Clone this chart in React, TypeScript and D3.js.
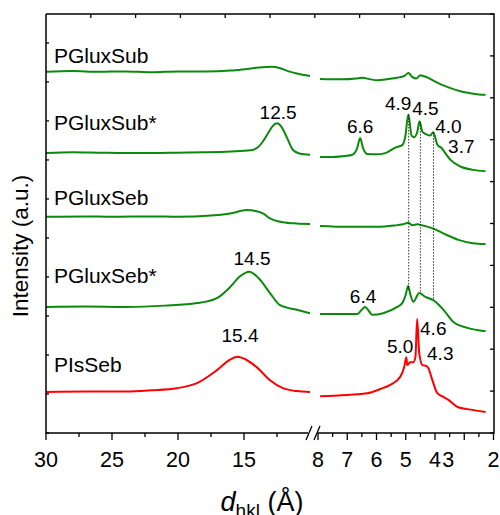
import React from "react";
import * as d3 from "d3";

// ---------- data (d-spacing in Å, intensity in a.u.) ----------
const leftDomain = [30, 10];
const rightDomain = [8, 2];

const leftMajorTicks = [30, 25, 20, 15];
const leftMinorTicks = [27.5, 22.5, 17.5, 12.5];
const rightMajorTicks = [8, 7, 6, 5, 4, 3, 2];
const rightMinorTicks = [7.5, 6.5, 5.5, 4.5, 3.5, 2.5];
const leftTickLabels = [
  { v: 30, t: "30" }, { v: 25, t: "25" }, { v: 20, t: "20" }, { v: 15, t: "15" },
];
const rightTickLabels = [
  { v: 8, t: "8" }, { v: 7, t: "7" }, { v: 6, t: "6" }, { v: 5, t: "5" },
  { v: 4, t: "4" }, { v: 3.55, t: "3" }, { v: 2, t: "2" },
];

const pgluxSubLeft: [number, number][] = [
  [30, 86.2], [28, 86.4], [26, 86.2], [24, 86.3], [22, 86.1], [20, 86.3], [18, 86.3],
  [16, 86.5], [14.77, 86.9], [13.6, 87.3], [12.9, 87.4], [12.3, 87.1], [11.6, 86.3],
  [11.0, 85.8], [10, 85.2],
];
const pgluxSubRight: [number, number][] = [
  [7.93, 84.5], [7.2, 84.4], [6.7, 84.6], [6.49, 84.8], [6.2, 84.4], [5.98, 84.2],
  [5.6, 84.5], [5.3, 84.8], [5.05, 85.2], [4.91, 85.9], [4.78, 85.0], [4.64, 84.6],
  [4.5, 85.4], [4.4, 85.2], [4.25, 84.8], [4.09, 84.2], [3.8, 83.2], [3.47, 82.3],
  [3.1, 81.5], [2.8, 81.1], [2.5, 80.8], [2.27, 80.7],
];

const pgluxSubStarLeft: [number, number][] = [
  [30, 66.8], [28, 67.0], [26, 66.9], [24, 66.8], [22, 66.8], [20, 66.9], [18, 67.0],
  [16, 67.2], [14.5, 67.5], [13.9, 68.3], [13.5, 69.9], [13.15, 71.7], [12.85, 73.2],
  [12.5, 73.9], [12.15, 73.0], [11.75, 70.5], [11.3, 67.6], [10.8, 66.7], [10, 66.4],
];
const pgluxSubStarRight: [number, number][] = [
  [7.93, 65.9], [7.5, 65.9], [7.07, 66.1], [6.83, 66.4], [6.66, 68.0], [6.56, 70.4],
  [6.46, 68.0], [6.32, 66.6], [6.0, 66.5], [5.7, 66.8], [5.36, 68.1], [5.12, 68.7],
  [5.02, 70.6], [4.91, 76.0], [4.8, 71.0], [4.71, 70.6], [4.6, 72.0], [4.53, 74.4],
  [4.43, 71.9], [4.33, 71.4], [4.16, 71.0], [4.06, 71.8], [3.92, 68.8], [3.76, 67.9],
  [3.66, 66.9], [3.47, 65.2], [3.13, 63.6], [2.7, 62.8], [2.27, 62.5],
];

const pgluxSebLeft: [number, number][] = [
  [30, 51.6], [27, 51.7], [25, 51.6], [22, 51.7], [20, 51.6], [17.5, 51.9],
  [16.06, 52.4], [14.77, 53.2], [13.56, 52.4], [13.03, 51.2], [12.05, 50.3],
  [11, 50.0], [10, 49.9],
];
const pgluxSebRight: [number, number][] = [
  [7.93, 49.4], [7.0, 49.2], [6.0, 49.2], [5.4, 49.5], [5.1, 49.8], [4.91, 50.2],
  [4.78, 49.6], [4.6, 49.8], [4.45, 49.6], [4.1, 48.9], [3.7, 47.6], [3.2, 46.1],
  [2.7, 45.3], [2.27, 45.1],
];

const pgluxSebStarLeft: [number, number][] = [
  [30, 30.1], [27, 30.2], [24, 30.1], [21, 30.4], [18.56, 31.0], [17.05, 32.2],
  [16.06, 34.8], [15.3, 37.4], [14.6, 38.5], [13.9, 37.0], [13.03, 33.4],
  [12.27, 30.5], [11, 29.4], [10, 28.6],
];
const pgluxSebStarRight: [number, number][] = [
  [7.93, 28.4], [7.2, 28.4], [6.66, 28.4], [6.52, 29.3], [6.39, 30.1], [6.25, 29.0],
  [6.15, 28.2], [5.77, 28.6], [5.29, 30.1], [5.12, 31.0], [5.0, 33.0], [4.92, 35.1],
  [4.84, 33.0], [4.74, 31.3], [4.54, 33.4], [4.33, 32.5], [4.06, 31.7], [3.71, 29.4],
  [3.37, 26.5], [2.89, 25.1], [2.27, 24.3],
];

const pisSebLeft: [number, number][] = [
  [30, 9.8], [27, 9.9], [24, 9.9], [22, 10.2], [20.08, 10.7], [18.56, 11.9],
  [17.05, 15.0], [16.06, 17.5], [15.5, 18.2], [14.9, 17.6], [14.0, 15.6],
  [13.03, 12.6], [12.05, 10.7], [11, 10.0], [10, 9.8],
];
const pisSebRight: [number, number][] = [
  [7.93, 8.8], [6.32, 9.5], [5.87, 10.5], [5.53, 11.5], [5.19, 13.4], [5.05, 15.8],
  [4.98, 18.1], [4.95, 16.2], [4.85, 16.9], [4.74, 16.9], [4.67, 18.1], [4.61, 27.2],
  [4.54, 19.1], [4.43, 16.2], [4.30, 16.0], [4.23, 15.5], [4.09, 12.6], [3.92, 9.5],
  [3.71, 8.6], [3.54, 7.9], [3.23, 6.2], [2.89, 5.7], [2.27, 5.0],
];

const seriesNames = ["PGluxSub", "PGluxSub*", "PGluxSeb", "PGluxSeb*", "PIsSeb"];
const seriesColors = ["#0b8a0b", "#0b8a0b", "#0b8a0b", "#0b8a0b", "#ff0000"];
const seriesLeft = [pgluxSubLeft, pgluxSubStarLeft, pgluxSebLeft, pgluxSebStarLeft, pisSebLeft];
const seriesRight = [pgluxSubRight, pgluxSubStarRight, pgluxSebRight, pgluxSebStarRight, pisSebRight];
// name label anchor [d, intensity]
const nameLabelPos: [number, number][] = [
  [29.4, 88.3], [29.4, 72.3], [29.4, 54.4], [29.4, 35.8], [29.4, 14.6],
];

const leftPeakLabels = [
  { t: "12.5", d: 12.42, i: 74.9 },
  { t: "14.5", d: 14.39, i: 40.1 },
  { t: "15.4", d: 15.3, i: 21.7 },
];
const rightPeakLabels = [
  { t: "6.6", d: 6.56, i: 71.6 },
  { t: "4.9", d: 5.26, i: 77.1 },
  { t: "4.5", d: 4.33, i: 75.9 },
  { t: "4.0", d: 3.54, i: 71.6 },
  { t: "3.7", d: 3.1, i: 66.8 },
  { t: "6.4", d: 6.46, i: 31.0 },
  { t: "5.0", d: 5.19, i: 19.1 },
  { t: "4.6", d: 4.06, i: 23.4 },
  { t: "4.3", d: 3.82, i: 17.4 },
];
const guideLines = [
  { d: 4.9, top: 75.9, bottom: 34.1 },
  { d: 4.5, top: 74.2, bottom: 33.4 },
  { d: 4.05, top: 71.8, bottom: 32.0 },
];

const leftYTicks = d3.range(0, 11).map((k) => k * 9.31);
const rightYTicks = d3.range(0, 101, 10);
const topTicks = d3.range(1, 10);

// ---------- layout ----------
const FR = { left: 46, right: 494, top: 14, bottom: 433 };
const BREAK_L = 310;
const BREAK_R = 318;
const FONT = "'Liberation Sans', Arial, Helvetica, sans-serif";

export default function App() {
  const xL = d3.scaleLinear().domain(leftDomain).range([FR.left, BREAK_L]);
  const xR = d3.scaleLinear().domain(rightDomain).range([BREAK_R, 493.5]);
  const y = d3.scaleLinear().domain([0, 100]).range([FR.bottom, FR.top]);
  const xTop = d3.scaleLinear().domain([0, 10]).range([FR.left, FR.right]);

  const lineL = d3
    .line<[number, number]>()
    .x((p) => xL(p[0]))
    .y((p) => y(p[1]))
    .curve(d3.curveMonotoneX);
  const lineR = d3
    .line<[number, number]>()
    .x((p) => xR(p[0]))
    .y((p) => y(p[1]))
    .curve(d3.curveMonotoneX);

  const axisW = 1.5;
  const tickLabelY = 467;

  return (
    <svg
      width={500}
      height={515}
      style={{ position: "absolute", left: 0, top: 0, background: "#fff" }}
      fontFamily={FONT}
    >
      <rect x={0} y={0} width={500} height={515} fill="#fff" />

      {/* curves */}
      {seriesLeft.map((s, k) => (
        <path key={"l" + k} d={lineL(s) || ""} fill="none" stroke={seriesColors[k]} strokeWidth={2} strokeLinejoin="round" />
      ))}
      {seriesRight.map((s, k) => (
        <path key={"r" + k} d={lineR(s) || ""} fill="none" stroke={seriesColors[k]} strokeWidth={2} strokeLinejoin="round" />
      ))}

      {/* dotted guide lines */}
      {guideLines.map((g, k) => (
        <line
          key={"g" + k}
          x1={xR(g.d)}
          x2={xR(g.d)}
          y1={y(g.top)}
          y2={y(g.bottom)}
          stroke="#000"
          strokeWidth={0.8}
          strokeDasharray="1.5,1.5"
        />
      ))}

      {/* name labels */}
      {seriesNames.map((n, k) => (
        <text key={"n" + k} x={xL(nameLabelPos[k][0])} y={y(nameLabelPos[k][1])} fontSize={21} fill="#000">
          {n}
        </text>
      ))}

      {/* peak labels */}
      {leftPeakLabels.map((p, k) => (
        <text key={"pl" + k} x={xL(p.d)} y={y(p.i)} fontSize={19} textAnchor="middle" fill="#000">
          {p.t}
        </text>
      ))}
      {rightPeakLabels.map((p, k) => (
        <text key={"pr" + k} x={xR(p.d)} y={y(p.i)} fontSize={19} textAnchor="middle" fill="#000">
          {p.t}
        </text>
      ))}

      {/* frame */}
      <line x1={FR.left} x2={FR.right} y1={FR.top} y2={FR.top} stroke="#000" strokeWidth={axisW} />
      <line x1={FR.left} x2={FR.left} y1={FR.top} y2={FR.bottom + 0.75} stroke="#000" strokeWidth={axisW} />
      <line x1={FR.right} x2={FR.right} y1={FR.top - 0.75} y2={FR.bottom + 0.75} stroke="#000" strokeWidth={axisW} />
      <line x1={FR.left} x2={BREAK_L - 2} y1={FR.bottom} y2={FR.bottom} stroke="#000" strokeWidth={axisW} />
      <line x1={BREAK_R} x2={FR.right} y1={FR.bottom} y2={FR.bottom} stroke="#000" strokeWidth={axisW} />
      {/* break marks */}
      {[BREAK_L - 1, BREAK_R - 1].map((bx, k) => (
        <line key={"b" + k} x1={bx - 3} x2={bx + 3} y1={FR.bottom + 7} y2={FR.bottom - 7} stroke="#000" strokeWidth={1.3} />
      ))}

      {/* top ticks */}
      {topTicks.map((t) => (
        <line key={"tt" + t} x1={xTop(t)} x2={xTop(t)} y1={FR.top} y2={FR.top + 4} stroke="#000" strokeWidth={1.3} />
      ))}
      {/* left y ticks */}
      {leftYTicks.map((t, k) => (
        <line key={"ly" + k} x1={FR.left} x2={FR.left + 3} y1={y(t)} y2={y(t)} stroke="#000" strokeWidth={1.3} />
      ))}
      {/* right y ticks */}
      {rightYTicks.map((t, k) => (
        <line key={"ry" + k} x1={FR.right - 4} x2={FR.right} y1={y(t)} y2={y(t)} stroke="#000" strokeWidth={1.3} />
      ))}

      {/* bottom ticks */}
      {leftMajorTicks.map((t) => (
        <line key={"lM" + t} x1={xL(t)} x2={xL(t)} y1={FR.bottom} y2={FR.bottom + 7} stroke="#000" strokeWidth={1.3} />
      ))}
      {leftMinorTicks.map((t) => (
        <line key={"lm" + t} x1={xL(t)} x2={xL(t)} y1={FR.bottom} y2={FR.bottom + 4} stroke="#000" strokeWidth={1.3} />
      ))}
      {rightMajorTicks.map((t) => (
        <line key={"rM" + t} x1={xR(t)} x2={xR(t)} y1={FR.bottom} y2={FR.bottom + 7} stroke="#000" strokeWidth={1.3} />
      ))}
      {rightMinorTicks.map((t) => (
        <line key={"rm" + t} x1={xR(t)} x2={xR(t)} y1={FR.bottom} y2={FR.bottom + 4} stroke="#000" strokeWidth={1.3} />
      ))}

      {/* tick labels */}
      {leftTickLabels.map((l) => (
        <text key={"ll" + l.t} x={xL(l.v)} y={tickLabelY} fontSize={21.5} textAnchor="middle" fill="#000">
          {l.t}
        </text>
      ))}
      {rightTickLabels.map((l) => (
        <text key={"rl" + l.t} x={xR(l.v)} y={tickLabelY} fontSize={21.5} textAnchor="middle" fill="#000">
          {l.t}
        </text>
      ))}

      {/* axis titles */}
      <text
        transform={`translate(28, 246) rotate(-90)`}
        fontSize={22.5}
        textAnchor="middle"
        fill="#000"
      >
        Intensity (a.u.)
      </text>
      <text x={262} y={511} fontSize={27} textAnchor="middle" fill="#000">
        <tspan fontStyle="italic">d</tspan>
        <tspan fontSize={19} dy={6}>hkl</tspan>
        <tspan dy={-6}> (Å)</tspan>
      </text>
    </svg>
  );
}
